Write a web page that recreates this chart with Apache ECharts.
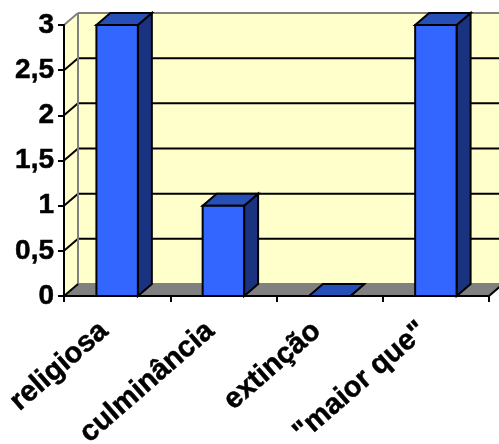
<!DOCTYPE html>
<html>
<head>
<meta charset="utf-8">
<style>html,body{margin:0;padding:0;background:#fff;overflow:hidden}#chart{width:499px;height:444px}</style>
<script src="https://cdn.jsdelivr.net/npm/echarts@6/dist/echarts.min.js"></script>
</head>
<body>
<div id="chart"></div>
<script>
const categories = ['religiosa', 'culminância', 'extinção', '"maior que"'];
const values = [3, 1, 0, 3];
const yTicks = [0, 0.5, 1, 1.5, 2, 2.5, 3];
const yMin = 0, yMax = 3, yStep = 0.5;

// Oblique projection of the back wall relative to the front plane
const DX = 14, DY = -12;
const WALL = '#ffffcc', EDGE = '#808080', FLOOR = '#808080';
const FRONT = '#3366ff', TOP = '#264fb8', SIDE = '#1a3380';
const INK = '#000000';

function poly(points, fill, stroke, lineWidth, z2) {
  return { type: 'polygon', z2: z2 || 0, shape: { points },
    style: { fill, stroke: stroke || null, lineWidth: lineWidth || 0 } };
}
function seg(x1, y1, x2, y2, stroke, lineWidth, z2) {
  return { type: 'line', z2: z2 || 1, shape: { x1, y1, x2, y2 },
    style: { stroke, lineWidth, fill: null } };
}

// Side wall, back wall, floor and the gridlines that wrap around them
function renderRoom(params, api) {
  const rect = params.coordSys;
  const L = rect.x, R = rect.x + rect.width;
  const yBase = api.coord([0, yMin])[1];
  const yTop = api.coord([0, yMax])[1];
  const kids = [
    poly([[L + DX, yTop + DY], [R + DX, yTop + DY], [R + DX, yBase + DY], [L + DX, yBase + DY]], WALL),
    poly([[L, yTop], [L + DX, yTop + DY], [L + DX, yBase + DY], [L, yBase]], WALL),
    poly([[L, yBase], [L + DX, yBase + DY], [R + DX, yBase + DY], [R, yBase]], FLOOR)
  ];
  yTicks.forEach(function (t) {
    if (t === yMin || t === yMax) return;
    const y = api.coord([0, t])[1];
    kids.push(seg(L, y, L + DX, y + DY, INK, 2));
    kids.push(seg(L + DX, y + DY, R + DX, y + DY, INK, 2));
  });
  kids.push(seg(L + DX, yTop + DY, R + DX, yTop + DY, EDGE, 2, 2));
  kids.push(seg(L + DX, yTop + DY, L + DX, yBase + DY, EDGE, 2, 2));
  kids.push(seg(L, yTop, L + DX, yTop + DY, EDGE, 2, 2));
  kids.push(seg(L + DX, yBase + DY, R + DX, yBase + DY, EDGE, 2, 2));
  kids.push(seg(L, yBase, L + DX, yBase + DY, INK, 2, 2));
  kids.push(seg(R, yBase, R + DX, yBase + DY, INK, 2, 2));
  return { type: 'group', children: kids };
}

// One extruded column: front face, top face and right-hand face
function renderBar(params, api) {
  const c = api.value(0);
  const top = api.coord([c, api.value(1)]);
  const base = api.coord([c, yMin]);
  const w = api.size([1, 0])[0] * 0.39;
  const l = top[0] - w / 2, r = top[0] + w / 2;
  const yT = top[1], yB = base[1];
  const kids = [];
  kids.push(poly([[r, yT], [r + DX, yT + DY], [r + DX, yB + DY], [r, yB]], SIDE, INK, 2));
  kids.push(poly([[l, yT], [l + DX, yT + DY], [r + DX, yT + DY], [r, yT]], TOP, INK, 2));
  if (yB > yT) {
    kids.push(poly([[l, yT], [r, yT], [r, yB], [l, yB]], FRONT, INK, 2));
  }
  return { type: 'group', children: kids };
}

const chart = echarts.init(document.getElementById('chart'), null, { renderer: 'canvas' });
chart.setOption({
  animation: false,
  backgroundColor: '#ffffff',
  grid: { left: 64, right: 10, top: 25, bottom: 148, containLabel: false, outerBoundsMode: 'none' },
  xAxis: {
    type: 'category',
    data: categories,
    z: 10,
    boundaryGap: true,
    axisLine: { lineStyle: { color: INK, width: 2 } },
    axisTick: { show: true, length: 6, inside: false, lineStyle: { color: INK, width: 2 } },
    splitLine: { show: false },
    axisLabel: {
      interval: 0, rotate: 41, margin: 20, color: INK, padding: [0, 17, 0, 0],
      fontFamily: 'Liberation Sans', fontWeight: 'bold', fontSize: 29, hideOverlap: false,
      textBorderColor: INK, textBorderWidth: 0.5
    }
  },
  yAxis: {
    type: 'value',
    min: yMin, max: yMax, interval: yStep,
    z: 10,
    axisLine: { show: true, lineStyle: { color: INK, width: 2 } },
    axisTick: { show: true, length: 6, lineStyle: { color: INK, width: 2 } },
    splitLine: { show: false },
    axisLabel: {
      margin: 10, color: INK,
      fontFamily: 'Liberation Sans', fontWeight: 'bold', fontSize: 28,
      textBorderColor: INK, textBorderWidth: 0.5,
      formatter: function (v) { return String(v).replace('.', ','); }
    }
  },
  series: [
    { type: 'custom', z: 1, clip: false, silent: true, renderItem: renderRoom, data: [[0]],
      encode: { x: 0 } },
    { type: 'custom', z: 2, clip: false, silent: true, renderItem: renderBar,
      data: values.map(function (v, i) { return [i, v]; }),
      encode: { x: 0, y: 1 } }
  ]
});
</script>
</body>
</html>
